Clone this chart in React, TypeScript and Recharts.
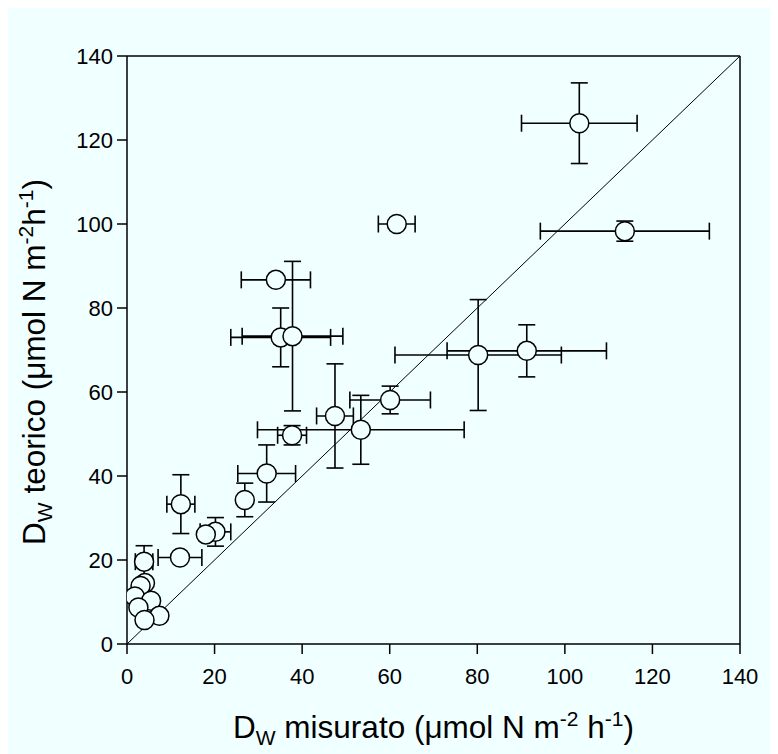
import React from 'react';
import { ScatterChart, Scatter, XAxis, YAxis, ErrorBar, ReferenceLine } from 'recharts';

// D_W misurato (x) and D_W teorico (y), µmol N m-2 h-1
const measured = [103.3, 61.6, 113.7, 34.0, 35.1, 37.8, 80.2, 91.3, 60.1, 47.5, 53.4, 37.7, 31.9, 26.9, 12.3, 20.2, 18.0, 12.1, 3.9, 4.1, 3.1, 1.8, 5.5, 2.6, 7.4, 4.0];
const theoretical = [124.0, 100.0, 98.3, 86.7, 73.0, 73.3, 68.8, 69.8, 58.1, 54.3, 51.0, 49.7, 40.6, 34.3, 33.3, 26.7, 26.1, 20.6, 19.6, 14.5, 13.8, 11.3, 10.3, 8.7, 6.7, 5.7];
const measuredErr = [13.2, 4.2, 19.3, 7.9, 11.4, 11.5, 19.0, 18.2, 9.2, 4.2, 23.6, 3.3, 6.6, 0, 3.2, 3.5, 0, 5.0, 2.0, 0, 0, 0, 0, 0, 0, 0];
const theoreticalErr = [9.6, 0, 2.4, 0, 7.0, 17.8, 13.2, 6.2, 3.3, 12.4, 8.2, 2.3, 6.8, 4.0, 7.0, 3.4, 0, 0, 3.8, 0, 0, 0, 0, 0, 0, 0];
const axisTicks = [0, 20, 40, 60, 80, 100, 120, 140];
const diagonal = [{ x: 0, y: 0 }, { x: 140, y: 140 }];

const BG = '#F0FFFF';
const FONT = "'Liberation Sans', Arial, sans-serif";

const data = measured.map((x, i) => ({ x, y: theoretical[i], ex: measuredErr[i], ey: theoreticalErr[i] }));

const renderCircle = (props: any) => (
  <circle cx={props.cx} cy={props.cy} r={9.5} fill={BG} stroke="#000" strokeWidth={1.5} />
);

const XTitle = (props: any) => {
  const vb = props.viewBox || { x: 0, y: 0, width: 0, height: 0 };
  const cx = vb.x + vb.width / 2;
  const y = vb.y + 94;
  return (
    <text x={cx} y={y} textAnchor="middle" fontFamily={FONT} fontSize={31.5} fill="#000">
      <tspan>D</tspan>
      <tspan fontSize={21} dy={7}>W</tspan>
      <tspan dy={-7}> misurato (μmol N m</tspan>
      <tspan fontSize={21} dy={-12}>-2</tspan>
      <tspan dy={12}> h</tspan>
      <tspan fontSize={21} dy={-12}>-1</tspan>
      <tspan dy={12}>)</tspan>
    </text>
  );
};

const YTitle = (props: any) => {
  const vb = props.viewBox || { x: 0, y: 0, width: 0, height: 0 };
  const x = vb.x - 2;
  const cy = vb.y + vb.height / 2 + 12;
  return (
    <text x={x} y={cy} transform={`rotate(-90, ${x}, ${cy})`} textAnchor="middle" fontFamily={FONT} fontSize={31.5} fill="#000">
      <tspan>D</tspan>
      <tspan fontSize={21} dy={7}>W</tspan>
      <tspan dy={-7}> teorico (μmol N m</tspan>
      <tspan fontSize={21} dy={-12}>-2</tspan>
      <tspan dy={12}>h</tspan>
      <tspan fontSize={21} dy={-12}>-1</tspan>
      <tspan dy={12}>)</tspan>
    </text>
  );
};

export default function App() {
  return (
    <div style={{ width: 770, height: 746, background: BG }}>
      <ScatterChart width={770} height={746} margin={{ top: 48, right: 38, bottom: 50, left: 39 }}>
        <XAxis
          type="number"
          dataKey="x"
          domain={[0, 140]}
          ticks={axisTicks}
          allowDataOverflow
          height={60}
          tickSize={10}
          tickMargin={14}
          axisLine={{ stroke: '#000', strokeWidth: 1.5 }}
          tickLine={{ stroke: '#000', strokeWidth: 1.5 }}
          tick={{ fill: '#000', fontSize: 22, fontFamily: FONT }}
          label={{ content: XTitle }}
        />
        <YAxis
          type="number"
          dataKey="y"
          domain={[0, 140]}
          ticks={axisTicks}
          allowDataOverflow
          width={80}
          tickSize={10}
          tickMargin={4}
          axisLine={{ stroke: '#000', strokeWidth: 1.5 }}
          tickLine={{ stroke: '#000', strokeWidth: 1.5 }}
          tick={{ fill: '#000', fontSize: 22, fontFamily: FONT }}
          label={{ content: YTitle }}
        />
        <ReferenceLine y={140} stroke="#000" strokeWidth={1.5} />
        <ReferenceLine x={140} stroke="#000" strokeWidth={1.5} />
        <ReferenceLine segment={diagonal} stroke="#000" strokeWidth={1} />
        <Scatter data={data} isAnimationActive={false} shape={renderCircle}>
          <ErrorBar dataKey="ex" direction="x" width={8.5} stroke="#000" strokeWidth={1.6} isAnimationActive={false} />
          <ErrorBar dataKey="ey" direction="y" width={8.5} stroke="#000" strokeWidth={1.6} isAnimationActive={false} />
        </Scatter>
      </ScatterChart>
    </div>
  );
}
